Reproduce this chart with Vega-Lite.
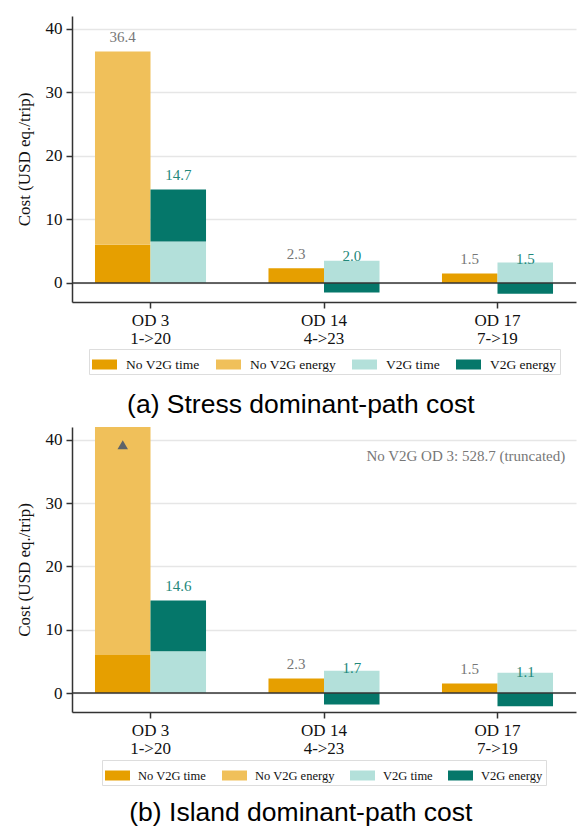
{
  "$schema": "https://vega.github.io/schema/vega-lite/v6.json",
  "padding": {"left": 15, "top": 16, "right": 6, "bottom": 2},
  "spacing": 9,
  "resolve": {"scale": {"color": "independent"}, "legend": {"color": "independent"}},
  "config": {
    "view": {"stroke": null},
    "font": "Liberation Serif",
    "axis": {
      "domainColor": "#333333",
      "domainWidth": 1.5,
      "tickColor": "#333333",
      "tickWidth": 1.5,
      "tickSize": 6,
      "labelFont": "Liberation Serif",
      "labelFontSize": 17,
      "labelColor": "#111111",
      "titleFont": "Liberation Serif",
      "titleFontSize": 17,
      "titleFontWeight": "normal",
      "titleColor": "#111111",
      "gridColor": "#e6e6e6",
      "gridWidth": 1.5
    },
    "legend": {"layout": {"bottom": {"anchor": "middle"}}},
    "title": {"font": "Liberation Sans", "fontSize": 26.5, "fontWeight": "normal", "color": "#000000"}
  },
  "datasets": {
    "stress": [
      {"od": "OD 3|1->20", "grp": "No V2G", "series": "No V2G time", "ord": 1, "value": 6.0},
      {"od": "OD 3|1->20", "grp": "No V2G", "series": "No V2G energy", "ord": 2, "value": 30.4},
      {"od": "OD 3|1->20", "grp": "V2G", "series": "V2G time", "ord": 1, "value": 6.5},
      {"od": "OD 3|1->20", "grp": "V2G", "series": "V2G energy", "ord": 2, "value": 8.2},
      {"od": "OD 14|4->23", "grp": "No V2G", "series": "No V2G time", "ord": 1, "value": 2.3},
      {"od": "OD 14|4->23", "grp": "V2G", "series": "V2G time", "ord": 1, "value": 3.5},
      {"od": "OD 14|4->23", "grp": "V2G", "series": "V2G energy", "ord": 2, "value": -1.5},
      {"od": "OD 17|7->19", "grp": "No V2G", "series": "No V2G time", "ord": 1, "value": 1.5},
      {"od": "OD 17|7->19", "grp": "V2G", "series": "V2G time", "ord": 1, "value": 3.2},
      {"od": "OD 17|7->19", "grp": "V2G", "series": "V2G energy", "ord": 2, "value": -1.7}
    ],
    "island": [
      {"od": "OD 3|1->20", "grp": "No V2G", "series": "No V2G time", "ord": 1, "value": 6.0},
      {"od": "OD 3|1->20", "grp": "No V2G", "series": "No V2G energy", "ord": 2, "value": 522.7},
      {"od": "OD 3|1->20", "grp": "V2G", "series": "V2G time", "ord": 1, "value": 6.6},
      {"od": "OD 3|1->20", "grp": "V2G", "series": "V2G energy", "ord": 2, "value": 8.0},
      {"od": "OD 14|4->23", "grp": "No V2G", "series": "No V2G time", "ord": 1, "value": 2.3},
      {"od": "OD 14|4->23", "grp": "V2G", "series": "V2G time", "ord": 1, "value": 3.5},
      {"od": "OD 14|4->23", "grp": "V2G", "series": "V2G energy", "ord": 2, "value": -1.8},
      {"od": "OD 17|7->19", "grp": "No V2G", "series": "No V2G time", "ord": 1, "value": 1.5},
      {"od": "OD 17|7->19", "grp": "V2G", "series": "V2G time", "ord": 1, "value": 3.2},
      {"od": "OD 17|7->19", "grp": "V2G", "series": "V2G energy", "ord": 2, "value": -2.1}
    ]
  },
  "vconcat": [
    {
      "title": {"text": "(a) Stress dominant-path cost", "orient": "bottom", "anchor": "middle", "frame": "bounds", "offset": 17, "dx": 5},
      "width": 504,
      "height": 286,
      "data": {"name": "stress"},
      "layer": [
        {
          "transform": [{"stack": "value", "groupby": ["od", "grp"], "sort": [{"field": "ord", "order": "ascending"}], "as": ["v0", "v1"]}],
          "mark": {"type": "bar", "clip": true},
          "encoding": {
            "x": {"field": "od", "type": "nominal", "sort": ["OD 3|1->20", "OD 14|4->23", "OD 17|7->19"],
                  "scale": {"paddingInner": 0.36, "paddingOuter": 0.1325},
                  "axis": {"title": null, "labelAngle": 0, "labelExpr": "split(datum.value, '|')", "labelLineHeight": 18, "labelPadding": 4}},
            "xOffset": {"field": "grp", "type": "nominal", "sort": ["No V2G", "V2G"], "scale": {"paddingInner": 0, "paddingOuter": 0}},
            "y": {"field": "v0", "type": "quantitative", "title": "Cost (USD eq./trip)",
                  "scale": {"domain": [-3, 42], "nice": false, "zero": false},
                  "axis": {"values": [0, 10, 20, 30, 40], "grid": true, "labelPadding": 4, "titlePadding": 12}},
            "y2": {"field": "v1"},
            "color": {"field": "series", "type": "nominal",
                      "scale": {"domain": ["No V2G time", "No V2G energy", "V2G time", "V2G energy"], "range": ["#E69F00", "#F0C05A", "#B3E0DA", "#05776A"]},
                      "legend": {"orient": "bottom", "direction": "horizontal", "title": null, "symbolType": "M-1,-0.4H1V0.4H-1Z", "symbolSize": 625, "symbolStrokeWidth": 0,
                                 "labelFont": "Liberation Serif", "labelFontSize": 13.5, "labelColor": "#111111", "columnPadding": 16, "labelOffset": 9,
                                 "padding": 3, "strokeColor": "#dddddd", "offset": 3}}
          }
        },
        {
          "data": {"values": [{}]},
          "mark": {"type": "rule", "color": "#333333", "strokeWidth": 1.5},
          "encoding": {"y": {"datum": 0}}
        },
        {
          "transform": [{"aggregate": [{"op": "sum", "field": "value", "as": "total"}], "groupby": ["od", "grp"]}],
          "mark": {"type": "text", "dy": -14.5, "fontSize": 15, "baseline": "middle"},
          "encoding": {
            "x": {"field": "od", "type": "nominal", "sort": ["OD 3|1->20", "OD 14|4->23", "OD 17|7->19"]},
            "xOffset": {"field": "grp", "type": "nominal", "sort": ["No V2G", "V2G"]},
            "y": {"field": "total", "type": "quantitative"},
            "text": {"field": "total", "type": "quantitative", "format": ".1f"},
            "color": {"condition": {"test": "datum.grp === 'V2G'", "value": "#23887a"}, "value": "#777777"}
          }
        }
      ]
    },
    {
      "title": {"text": "(b) Island dominant-path cost", "orient": "bottom", "anchor": "middle", "frame": "bounds", "offset": 14, "dx": 5},
      "width": 504,
      "height": 285,
      "data": {"name": "island"},
      "layer": [
        {
          "transform": [{"stack": "value", "groupby": ["od", "grp"], "sort": [{"field": "ord", "order": "ascending"}], "as": ["v0", "v1"]}],
          "mark": {"type": "bar", "clip": true},
          "encoding": {
            "x": {"field": "od", "type": "nominal", "sort": ["OD 3|1->20", "OD 14|4->23", "OD 17|7->19"],
                  "scale": {"paddingInner": 0.36, "paddingOuter": 0.1325},
                  "axis": {"title": null, "labelAngle": 0, "labelExpr": "split(datum.value, '|')", "labelLineHeight": 18, "labelPadding": 4}},
            "xOffset": {"field": "grp", "type": "nominal", "sort": ["No V2G", "V2G"], "scale": {"paddingInner": 0, "paddingOuter": 0}},
            "y": {"field": "v0", "type": "quantitative", "title": "Cost (USD eq./trip)",
                  "scale": {"domain": [-3, 42], "nice": false, "zero": false},
                  "axis": {"values": [0, 10, 20, 30, 40], "grid": true, "labelPadding": 4, "titlePadding": 12}},
            "y2": {"field": "v1"},
            "color": {"field": "series", "type": "nominal",
                      "scale": {"domain": ["No V2G time", "No V2G energy", "V2G time", "V2G energy"], "range": ["#E69F00", "#F0C05A", "#B3E0DA", "#05776A"]},
                      "legend": {"orient": "bottom", "direction": "horizontal", "title": null, "symbolType": "M-1,-0.4H1V0.4H-1Z", "symbolSize": 625, "symbolStrokeWidth": 0,
                                 "labelFont": "Liberation Serif", "labelFontSize": 12.5, "labelColor": "#111111", "columnPadding": 15, "labelOffset": 8,
                                 "padding": 3, "strokeColor": "#dddddd", "offset": 4}}
          }
        },
        {
          "data": {"values": [{}]},
          "mark": {"type": "rule", "color": "#333333", "strokeWidth": 1.5},
          "encoding": {"y": {"datum": 0}}
        },
        {
          "transform": [
            {"aggregate": [{"op": "sum", "field": "value", "as": "total"}], "groupby": ["od", "grp"]},
            {"filter": "datum.total < 42"}
          ],
          "mark": {"type": "text", "dy": -14.5, "fontSize": 15, "baseline": "middle"},
          "encoding": {
            "x": {"field": "od", "type": "nominal", "sort": ["OD 3|1->20", "OD 14|4->23", "OD 17|7->19"]},
            "xOffset": {"field": "grp", "type": "nominal", "sort": ["No V2G", "V2G"]},
            "y": {"field": "total", "type": "quantitative"},
            "text": {"field": "total", "type": "quantitative", "format": ".1f"},
            "color": {"condition": {"test": "datum.grp === 'V2G'", "value": "#23887a"}, "value": "#777777"}
          }
        },
        {
          "data": {"values": [{"od": "OD 3|1->20", "grp": "No V2G", "marker": 39.2}]},
          "mark": {"type": "point", "shape": "triangle-up", "filled": true, "size": 110, "color": "#5d6369", "opacity": 1},
          "encoding": {
            "x": {"field": "od", "type": "nominal", "sort": ["OD 3|1->20", "OD 14|4->23", "OD 17|7->19"]},
            "xOffset": {"field": "grp", "type": "nominal", "sort": ["No V2G", "V2G"]},
            "y": {"field": "marker", "type": "quantitative"}
          }
        },
        {
          "data": {"values": [{"od": "OD 17|7->19", "grp": "V2G", "pos": 37.4, "note": "No V2G OD 3: 528.7 (truncated)"}]},
          "mark": {"type": "text", "align": "right", "baseline": "middle", "dx": 40, "fontSize": 15, "color": "#777777"},
          "encoding": {
            "x": {"field": "od", "type": "nominal", "sort": ["OD 3|1->20", "OD 14|4->23", "OD 17|7->19"]},
            "xOffset": {"field": "grp", "type": "nominal", "sort": ["No V2G", "V2G"]},
            "y": {"field": "pos", "type": "quantitative"},
            "text": {"field": "note"}
          }
        }
      ]
    }
  ]
}
